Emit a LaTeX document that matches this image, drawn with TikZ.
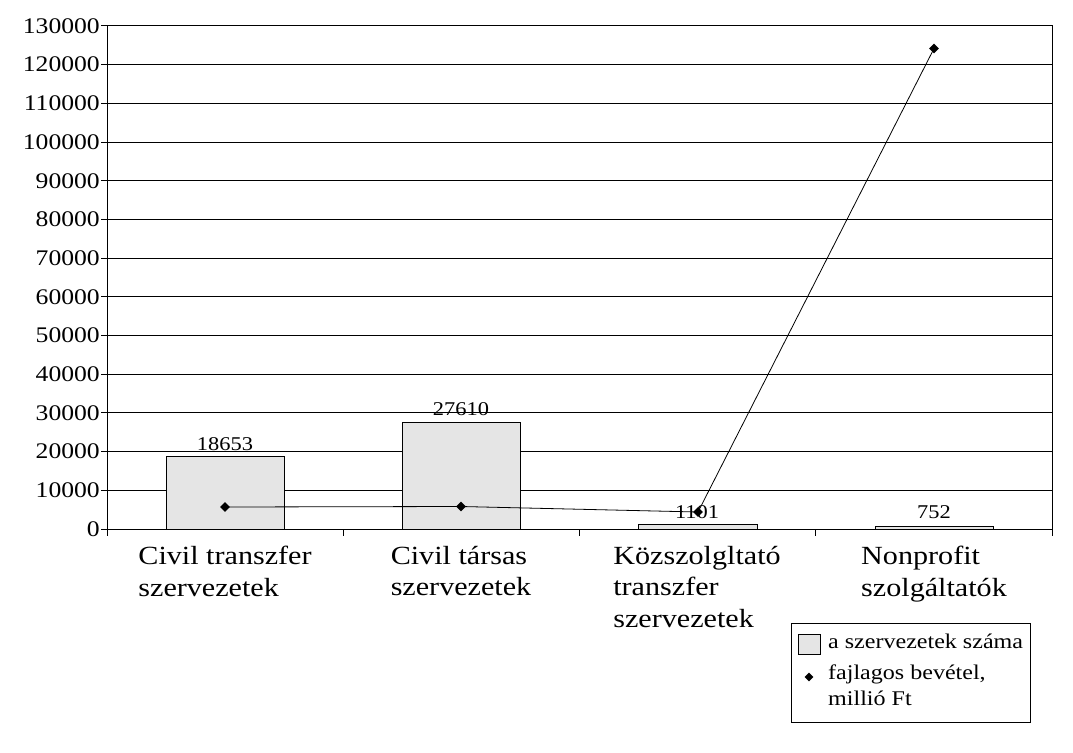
\documentclass[tikz,border=0pt]{standalone}
\usepackage{fontspec}
\setmainfont[FakeStretch=1.15]{Liberation Serif}
\usetikzlibrary{shapes.geometric}
\begin{document}
\begin{tikzpicture}[x=1pt,y=-1pt,
  grid/.style={line width=1pt,black},
  ticklab/.style={anchor=east,inner sep=0pt,font=\fontsize{22.3}{26}\selectfont},
  barstyle/.style={draw=black,line width=1pt,fill=gray!20},
  vallab/.style={inner sep=0pt,font=\fontsize{19.5}{22}\selectfont},
  catlab/.style={anchor=north,align=left,inner sep=0pt,font=\fontsize{26.2}{31.5}\selectfont},
  mk/.style={diamond,fill=black,inner sep=0pt,minimum size=10pt},
  serie/.style={line width=0.8pt,black},
  legtext/.style={inner sep=0pt,align=left,font=\fontsize{20.9}{26}\selectfont}]
\useasboundingbox (0,0) rectangle (1073,752);
% gridlines and y labels
\foreach \i [evaluate=\i as \yy using 529-\i*503/13] in {0,...,13}{
  \draw[grid] (101,\yy) -- (1052,\yy);
  \ifnum\i=0
    \node[ticklab] at (100,\yy) {0};
  \else
    \node[ticklab] at (100,\yy) {\i0000};
  \fi
}
% plot frame
\draw[grid] (107,26) rectangle (1052,529);
% x ticks
\foreach \xx in {107,343.25,579.5,815.75,1052}{
  \draw[grid] (\xx,529) -- (\xx,536);
}
% bars
\draw[barstyle] (166,529) rectangle (284,456.8);
\draw[barstyle] (402,529) rectangle (520,422.2);
\draw[barstyle] (638,529) rectangle (757,524.7);
\draw[barstyle] (875,529) rectangle (993,526.1);
% value labels
\node[vallab] (v1) at (225,444) {18653};
\node[vallab] (v2) at (461,409) {27610};
\node[vallab] (v3) at (697,512) {1101};
\node[vallab] (v4) at (934,512) {752};
% series line
\node[mk] (p1) at (225,507) {};
\node[mk] (p2) at (461,506.5) {};
\node[mk] (p3) at (698,512) {};
\node[mk] (p4) at (934,48.5) {};
\draw[serie] (p1.center) -- (p2.center) -- (p3.center) -- (p4.center);
% category labels
\node[catlab] (c1) at (225,546) {Civil transzfer\\szervezetek};
\node[catlab] (c2) at (461,546) {Civil társas\\szervezetek};
\node[catlab] (c3) at (697,546) {Közszolgltató\\transzfer\\szervezetek};
\node[catlab] (c4) at (934,546) {Nonprofit\\szolgáltatók};
% legend
\node[draw=black,line width=1pt,minimum width=239pt,minimum height=99pt,inner sep=0pt] (leg) at (910.5,672.5) {};
\draw[barstyle] (798,634) rectangle (820,654);
\node[legtext,anchor=base west] (l1) at (828,648) {a szervezetek száma};
\node[mk,minimum size=9pt] (lm) at (809,677) {};
\node[legtext,anchor=north west] (l2) at (828,665) {fajlagos bevétel,\\millió Ft};
\end{tikzpicture}
\end{document}
